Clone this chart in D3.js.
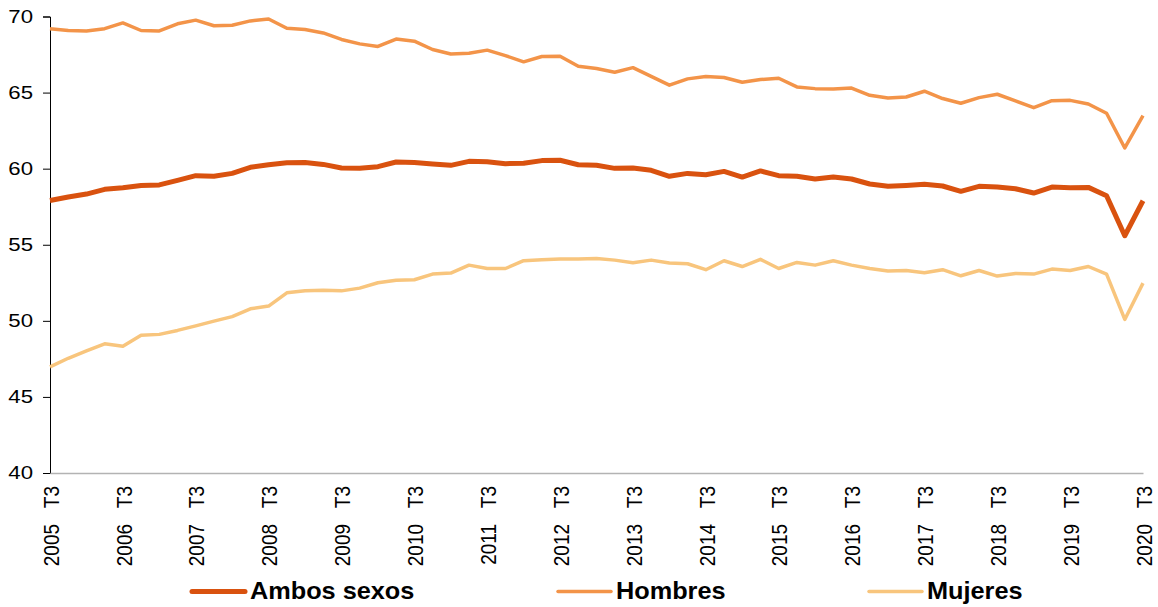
<!DOCTYPE html>
<html>
<head>
<meta charset="utf-8">
<script src="https://cdn.jsdelivr.net/npm/d3@7"></script>
<style>
  body { margin: 0; background: #fff; }
  svg { display: block; font-family: "Liberation Sans", Arial, sans-serif; }
</style>
</head>
<body>
<div id="chart"></div>
<script>
// Quarterly periods, 2005 T3 .. 2020 T3
const periods = [];
for (let y = 2005; y <= 2020; y++) {
    for (let q = 1; q <= 4; q++) {
        if ((y === 2005 && q < 3) || (y === 2020 && q > 3)) continue;
        periods.push(y + ' T' + q);
    }
}

const ambosSexos = [
    57.91, 58.14, 58.33, 58.64, 58.75, 58.90, 58.93, 59.23, 59.54, 59.50,
    59.69, 60.09, 60.26, 60.39, 60.41, 60.28, 60.04, 60.02, 60.13, 60.44,
    60.41, 60.31, 60.22, 60.48, 60.46, 60.33, 60.35, 60.53, 60.55, 60.26,
    60.22, 60.02, 60.04, 59.89, 59.50, 59.69, 59.60, 59.82, 59.45, 59.85,
    59.54, 59.50, 59.32, 59.45, 59.32, 58.99, 58.84, 58.90, 58.97, 58.86,
    58.51, 58.84, 58.80, 58.68, 58.40, 58.79, 58.75, 58.77, 58.22, 55.59,
    57.89
];

const hombres = [
    69.20, 69.08, 69.05, 69.20, 69.58, 69.08, 69.05, 69.52, 69.76, 69.39,
    69.43, 69.71, 69.84, 69.23, 69.14, 68.92, 68.49, 68.20, 68.03, 68.52,
    68.38, 67.83, 67.54, 67.59, 67.79, 67.43, 67.02, 67.37, 67.39, 66.73,
    66.58, 66.34, 66.64, 66.07, 65.49, 65.90, 66.05, 65.99, 65.68, 65.86,
    65.94, 65.37, 65.26, 65.24, 65.30, 64.82, 64.65, 64.71, 65.09, 64.61,
    64.30, 64.67, 64.89, 64.45, 64.01, 64.47, 64.49, 64.25, 63.64, 61.36,
    63.49
];

const mujeres = [
    46.97, 47.54, 48.03, 48.49, 48.33, 49.05, 49.11, 49.37, 49.67, 49.98,
    50.28, 50.79, 50.97, 51.84, 51.97, 52.01, 51.97, 52.15, 52.50, 52.67,
    52.70, 53.07, 53.14, 53.66, 53.44, 53.44, 53.95, 54.01, 54.06, 54.06,
    54.10, 53.99, 53.82, 53.99, 53.80, 53.75, 53.36, 53.95, 53.57, 54.04,
    53.44, 53.84, 53.66, 53.95, 53.66, 53.44, 53.27, 53.31, 53.16, 53.36,
    52.96, 53.31, 52.94, 53.11, 53.07, 53.40, 53.31, 53.57, 53.07, 50.09,
    52.48
];

const yTicks = [40, 45, 50, 55, 60, 65, 70];

const series = [
    { name: 'Ambos sexos', values: ambosSexos, color: '#d9520f', width: 5 },
    { name: 'Hombres', values: hombres, color: '#f39449', width: 3.5 },
    { name: 'Mujeres', values: mujeres, color: '#f8c57d', width: 3.5 }
];

const width = 1158;
const height = 607;
const margin = { top: 16.5, right: 15, bottom: 134, left: 50 };
// the original picture is slightly wider than tall, text looks stretched
const stretch = 1.2;

const svg = d3.select('#chart')
    .append('svg')
    .attr('width', width)
    .attr('height', height);

const x = d3.scalePoint()
    .domain(periods)
    .range([margin.left, 1143]);

const y = d3.scaleLinear()
    .domain([40, 70])
    .range([height - margin.bottom, margin.top]);

// Y axis
const yAxis = svg.append('g')
    .attr('transform', `translate(${margin.left},0)`)
    .call(d3.axisLeft(y).tickValues(yTicks).tickSize(7).tickPadding(10));
yAxis.select('.domain').attr('stroke', '#000');
yAxis.selectAll('.tick line').attr('stroke', '#000');
yAxis.selectAll('.tick text')
    .attr('fill', '#000')
    .style('font-size', '18.5px')
    .attr('x', -17 / stretch)
    .attr('transform', `scale(${stretch},1)`);

// X axis (labels only on T3)
const xAxis = svg.append('g')
    .attr('transform', `translate(0,${y(40)})`)
    .call(d3.axisBottom(x)
        .tickValues(periods.filter(p => p.endsWith('T3')))
        .tickSize(0)
        .tickFormat(p => p.replace(' ', '\u00a0\u00a0\u00a0')));
xAxis.select('.domain').attr('stroke', '#b3b3b3').attr('stroke-width', 1.5);
xAxis.selectAll('.tick text')
    .attr('fill', '#000')
    .style('font-size', '19px')
    .attr('text-anchor', 'end')
    .attr('transform', `scale(${stretch},1) rotate(-90)`)
    .attr('x', -13)
    .attr('y', 0)
    .attr('dy', '0.36em');

// Lines
const line = d3.line()
    .x((d, i) => x(periods[i]))
    .y(d => y(d));

svg.append('g')
    .selectAll('path')
    .data(series.slice().reverse())
    .enter()
    .append('path')
    .attr('fill', 'none')
    .attr('stroke', d => d.color)
    .attr('stroke-width', d => d.width)
    .attr('stroke-linejoin', 'round')
    .attr('d', d => line(d.values));

// Legend
const legendX = [192, 558, 869];
const legend = svg.append('g')
    .selectAll('g')
    .data(series)
    .enter()
    .append('g')
    .attr('transform', (d, i) => `translate(${legendX[i]},591.5)`);

legend.append('line')
    .attr('x1', 0)
    .attr('x2', 53)
    .attr('stroke', d => d.color)
    .attr('stroke-width', d => d.width)
    .attr('stroke-linecap', 'round');

legend.append('text')
    .attr('transform', 'translate(58,0) scale(1.1,1)')
    .attr('dy', '0.33em')
    .style('font-size', '23px')
    .style('font-weight', 'bold')
    .text(d => d.name);
</script>
</body>
</html>
